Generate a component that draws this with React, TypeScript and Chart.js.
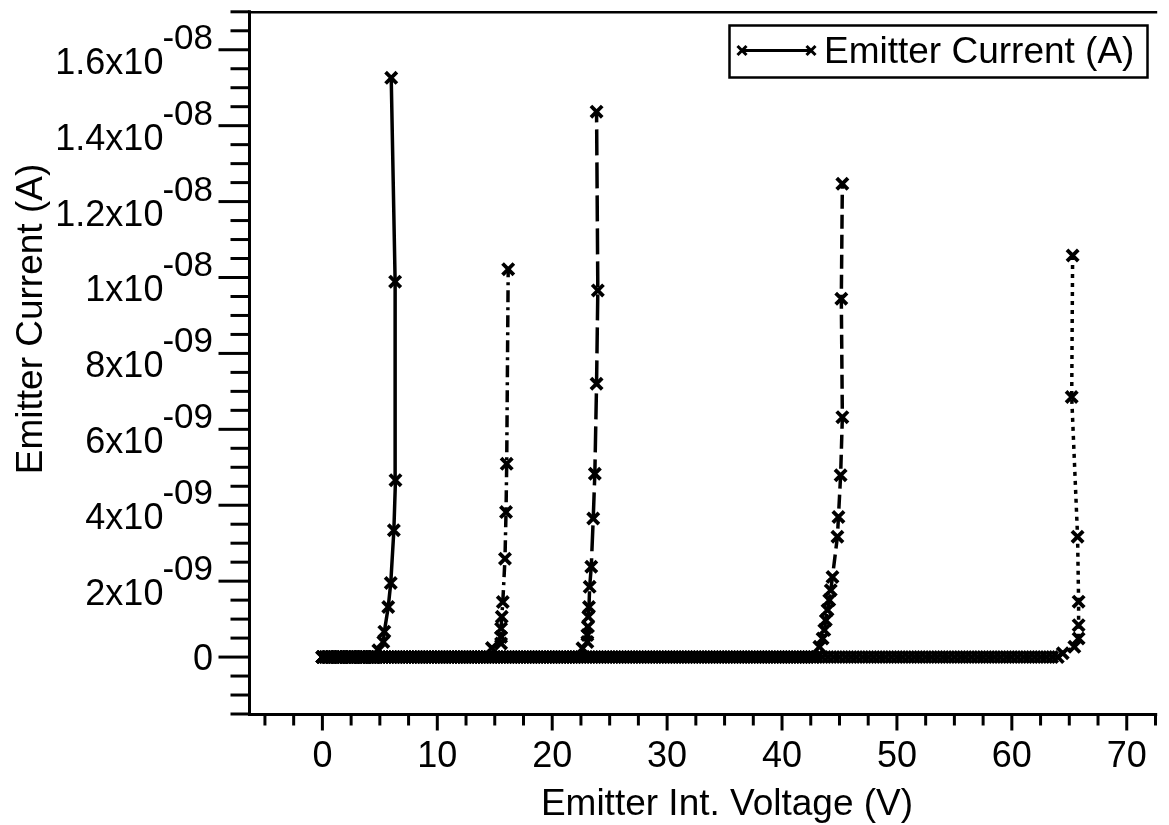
import React, { useEffect, useRef } from 'react';
import { Chart, registerables } from 'chart.js';

Chart.register(...registerables);

// ---- Data (voltage in V, current in nA) ----
const volts1 = [
  0, 0.2, 0.4, 0.6, 0.8, 1, 1.2, 1.4, 1.6, 1.8,
  2, 2.2, 2.4, 2.6, 2.8, 3, 3.2, 3.4, 3.6, 3.8,
  4, 4.2, 4.4, 4.6,
  4.87, 5.3, 5.39, 5.73, 5.95, 6.22, 6.36, 6.33, 5.99,
];
const current1 = [
  0, 0, 0, 0, 0, 0, 0, 0, 0, 0,
  0, 0, 0, 0, 0, 0, 0, 0, 0, 0,
  0, 0, 0, 0,
  0.18, 0.4, 0.67, 1.32, 1.95, 3.34, 4.66, 9.89, 15.26,
];

const volts2 = [
  0, 0.5, 1, 1.5, 2, 2.5, 3, 3.5, 4, 4.5,
  5, 5.5, 6, 6.5, 7, 7.5, 8, 8.5, 9, 9.5,
  10, 10.5, 11, 11.5, 12, 12.5, 13, 13.5, 14,
  14.75, 15.55, 15.55, 15.55, 15.61, 15.7, 15.89, 15.98, 16.04, 16.17,
];
const current2 = [
  0, 0, 0, 0, 0, 0, 0, 0, 0, 0,
  0, 0, 0, 0, 0, 0, 0, 0, 0, 0,
  0, 0, 0, 0, 0, 0, 0, 0, 0,
  0.24, 0.36, 0.53, 0.75, 1.06, 1.45, 2.59, 3.82, 5.09, 10.22,
];

const volts3 = [
  0, 0.5, 1, 1.5, 2, 2.5, 3, 3.5, 4, 4.5,
  5, 5.5, 6, 6.5, 7, 7.5, 8, 8.5, 9, 9.5,
  10, 10.5, 11, 11.5, 12, 12.5, 13, 13.5, 14, 14.5,
  15, 15.5, 16, 16.5, 17, 17.5, 18, 18.5, 19, 19.5,
  20, 20.5, 21, 21.5, 22,
  22.63, 23.06, 23.06, 23.11, 23.14, 23.2, 23.26, 23.4, 23.57, 23.71, 23.86, 23.97, 23.86,
];
const current3 = [
  0, 0, 0, 0, 0, 0, 0, 0, 0, 0,
  0, 0, 0, 0, 0, 0, 0, 0, 0, 0,
  0, 0, 0, 0, 0, 0, 0, 0, 0, 0,
  0, 0, 0, 0, 0, 0, 0, 0, 0, 0,
  0, 0, 0, 0, 0,
  0.23, 0.4, 0.58, 0.8, 1.06, 1.32, 1.85, 2.38, 3.65, 4.83, 7.2, 9.66, 14.37,
];

const volts4 = [
  0.25, 0.75, 1.25, 1.75, 2.25, 2.75, 3.25, 3.75, 4.25, 4.75,
  5.25, 5.75, 6.25, 6.75, 7.25, 7.75, 8.25, 8.75, 9.25, 9.75,
  10.25, 10.75, 11.25, 11.75, 12.25, 12.75, 13.25, 13.75, 14.25, 14.75,
  15.25, 15.75, 16.25, 16.75, 17.25, 17.75, 18.25, 18.75, 19.25, 19.75,
  20.25, 20.75, 21.25, 21.75, 22.25, 22.75, 23.25, 23.75, 24.25, 24.75,
  25.25, 25.75, 26.25, 26.75, 27.25, 27.75, 28.25, 28.75, 29.25, 29.75,
  30.25, 30.75, 31.25, 31.75, 32.25, 32.75, 33.25, 33.75, 34.25, 34.75,
  35.25, 35.75, 36.25, 36.75, 37.25, 37.75, 38.25, 38.75, 39.25, 39.75,
  40.25, 40.75, 41.25, 41.75, 42.25, 42.75,
  43.25, 43.53, 43.68, 43.81, 43.96, 44.11, 44.24, 44.39, 44.82, 44.91, 45.1, 45.25, 45.16, 45.25,
];
const current4 = [
  0, 0, 0, 0, 0, 0, 0, 0, 0, 0,
  0, 0, 0, 0, 0, 0, 0, 0, 0, 0,
  0, 0, 0, 0, 0, 0, 0, 0, 0, 0,
  0, 0, 0, 0, 0, 0, 0, 0, 0, 0,
  0, 0, 0, 0, 0, 0, 0, 0, 0, 0,
  0, 0, 0, 0, 0, 0, 0, 0, 0, 0,
  0, 0, 0, 0, 0, 0, 0, 0, 0, 0,
  0, 0, 0, 0, 0, 0, 0, 0, 0, 0,
  0, 0, 0, 0, 0, 0,
  0.27, 0.49, 0.71, 0.97, 1.24, 1.5, 1.76, 2.11, 3.17, 3.69, 4.79, 6.32, 9.44, 12.47,
];

const volts5 = [
  0, 0.5, 1, 1.5, 2, 2.5, 3, 3.5, 4, 4.5,
  5, 5.5, 6, 6.5, 7, 7.5, 8, 8.5, 9, 9.5,
  10, 10.5, 11, 11.5, 12, 12.5, 13, 13.5, 14, 14.5,
  15, 15.5, 16, 16.5, 17, 17.5, 18, 18.5, 19, 19.5,
  20, 20.5, 21, 21.5, 22, 22.5, 23, 23.5, 24, 24.5,
  25, 25.5, 26, 26.5, 27, 27.5, 28, 28.5, 29, 29.5,
  30, 30.5, 31, 31.5, 32, 32.5, 33, 33.5, 34, 34.5,
  35, 35.5, 36, 36.5, 37, 37.5, 38, 38.5, 39, 39.5,
  40, 40.5, 41, 41.5, 42, 42.5, 43, 43.5, 44, 44.5,
  45, 45.5, 46, 46.5, 47, 47.5, 48, 48.5, 49, 49.5,
  50, 50.5, 51, 51.5, 52, 52.5, 53, 53.5, 54, 54.5,
  55, 55.5, 56, 56.5, 57, 57.5, 58, 58.5, 59, 59.5,
  60, 60.5, 61, 61.5, 62, 62.5, 63, 63.5, 64,
  64.43, 65.44, 65.81, 65.81, 65.81, 65.72, 65.21, 65.29,
];
const current5 = [
  0, 0, 0, 0, 0, 0, 0, 0, 0, 0,
  0, 0, 0, 0, 0, 0, 0, 0, 0, 0,
  0, 0, 0, 0, 0, 0, 0, 0, 0, 0,
  0, 0, 0, 0, 0, 0, 0, 0, 0, 0,
  0, 0, 0, 0, 0, 0, 0, 0, 0, 0,
  0, 0, 0, 0, 0, 0, 0, 0, 0, 0,
  0, 0, 0, 0, 0, 0, 0, 0, 0, 0,
  0, 0, 0, 0, 0, 0, 0, 0, 0, 0,
  0, 0, 0, 0, 0, 0, 0, 0, 0, 0,
  0, 0, 0, 0, 0, 0, 0, 0, 0, 0,
  0, 0, 0, 0, 0, 0, 0, 0, 0, 0,
  0, 0, 0, 0, 0, 0, 0, 0, 0, 0,
  0, 0, 0, 0, 0, 0, 0, 0, 0,
  0.1, 0.27, 0.49, 0.84, 1.46, 3.17, 6.85, 10.58,
];

// ---- Tick labels ----
const xTickValues = [0, 10, 20, 30, 40, 50, 60, 70];
const xTickLabels = ['0', '10', '20', '30', '40', '50', '60', '70'];
const yTickValues = [0, 2, 4, 6, 8, 10, 12, 14, 16]; // nA
const yTickMantissa = ['0', '2x10', '4x10', '6x10', '8x10', '1x10', '1.2x10', '1.4x10', '1.6x10'];
const yTickExponent = ['', '-09', '-09', '-09', '-09', '-08', '-08', '-08', '-08'];

const legendLabel = 'Emitter Current (A)';
const xTitle = 'Emitter Int. Voltage (V)';
const yTitle = 'Emitter Current (A)';

const FONT = '"Liberation Sans", Arial, Helvetica, sans-serif';

const traces = [
  { x: volts1, y: current1, dash: [] as number[] },
  { x: volts2, y: current2, dash: [12, 5, 3, 5] },
  { x: volts3, y: current3, dash: [26, 7] },
  { x: volts4, y: current4, dash: [14, 6] },
  { x: volts5, y: current5, dash: [4, 5] },
];

const axesPlugin = {
  id: 'igorAxes',
  afterDraw(chart: any) {
    const { ctx, chartArea: ca, scales } = chart;
    const xs = scales.x;
    const ys = scales.y;
    const seg = (x1: number, y1: number, x2: number, y2: number) => {
      ctx.beginPath();
      ctx.moveTo(x1, y1);
      ctx.lineTo(x2, y2);
      ctx.stroke();
    };
    ctx.save();
    ctx.strokeStyle = '#000';
    ctx.fillStyle = '#000';
    ctx.lineCap = 'butt';
    ctx.setLineDash([]);

    // frame lines
    ctx.lineWidth = 3;
    const axX = ca.left - 0.5;
    const axY = ca.bottom + 0.5;
    seg(axX, ca.top - 1.5, axX, axY + 1.5);
    seg(axX - 1.5, axY, ca.right, axY);
    ctx.lineWidth = 2.5;
    seg(axX - 1.5, ca.top + 0.5, ca.right, ca.top + 0.5);

    // y ticks (minor every 0.5 nA, major every 2 nA)
    ctx.lineWidth = 3;
    for (let v = ys.min; v <= ys.max + 1e-6; v += 0.5) {
      const py = ys.getPixelForValue(v);
      const major = Math.abs(v / 2 - Math.round(v / 2)) < 1e-6;
      const len = major ? 31 : 19;
      seg(axX - len, py, axX, py);
    }
    // x ticks (minor every 2.5 V, major every 10 V)
    for (let v = Math.ceil(xs.min / 2.5) * 2.5; v <= xs.max + 1e-6; v += 2.5) {
      const px = xs.getPixelForValue(v);
      const major = Math.abs(v / 10 - Math.round(v / 10)) < 1e-6;
      const len = major ? 16 : 11;
      seg(px, axY, px, axY + len);
    }

    // x tick labels
    ctx.font = `36px ${FONT}`;
    ctx.textAlign = 'center';
    ctx.textBaseline = 'alphabetic';
    xTickValues.forEach((v, i) => {
      ctx.fillText(xTickLabels[i], xs.getPixelForValue(v), 767);
    });

    // y tick labels with superscript exponent
    const right = 213;
    yTickValues.forEach((v, i) => {
      const py = ys.getPixelForValue(v);
      const exp = yTickExponent[i];
      if (!exp) {
        ctx.font = `36px ${FONT}`;
        ctx.textAlign = 'right';
        ctx.fillText(yTickMantissa[i], right, py + 13);
        return;
      }
      ctx.font = `35px ${FONT}`;
      const supW = ctx.measureText(exp).width;
      ctx.textAlign = 'left';
      ctx.fillText(exp, right - supW, py - 1);
      ctx.font = `36px ${FONT}`;
      ctx.textAlign = 'right';
      ctx.fillText(yTickMantissa[i], right - supW + 1, py + 24);
    });

    // axis titles
    ctx.font = `37px ${FONT}`;
    ctx.textAlign = 'center';
    ctx.fillText(xTitle, 727, 815);
    ctx.save();
    ctx.translate(42, 319);
    ctx.rotate(-Math.PI / 2);
    ctx.fillText(yTitle, 0, 0);
    ctx.restore();

    // legend
    ctx.lineWidth = 2.5;
    ctx.strokeRect(729.5, 25.5, 418, 52);
    ctx.lineWidth = 3;
    seg(742, 50.5, 811, 50.5);
    const cross = (cx: number, cy: number) => {
      ctx.lineWidth = 3;
      seg(cx - 4.5, cy - 4.5, cx + 4.5, cy + 4.5);
      seg(cx - 4.5, cy + 4.5, cx + 4.5, cy - 4.5);
    };
    cross(742, 50.5);
    cross(811, 50.5);
    ctx.font = `37px ${FONT}`;
    ctx.textAlign = 'left';
    ctx.fillText(legendLabel, 824, 63);

    ctx.restore();
  },
};

export default function App() {
  const ref = useRef<HTMLCanvasElement>(null);
  useEffect(() => {
    const canvas = ref.current;
    if (!canvas) return;
    const chart = new Chart(canvas, {
      type: 'scatter',
      data: {
        datasets: traces.map((t, i) => ({
          label: i === 0 ? legendLabel : `sweep ${i + 1}`,
          data: t.x.map((xv, j) => ({ x: xv, y: t.y[j] })),
          showLine: true,
          borderColor: '#000',
          backgroundColor: '#000',
          borderWidth: 3.5,
          borderDash: t.dash,
          pointStyle: 'crossRot',
          pointRadius: 8,
          pointBorderWidth: 3.8,
          pointBorderColor: '#000',
          pointHoverRadius: 8,
          tension: 0,
        })),
      },
      options: {
        animation: false,
        responsive: false,
        events: [],
        layout: { padding: { left: 250, right: 0, top: 11, bottom: 111 } },
        plugins: {
          legend: { display: false },
          tooltip: { enabled: false },
          title: { display: false },
        },
        scales: {
          x: { type: 'linear', min: -6.3, max: 72.65, display: false },
          y: { type: 'linear', min: -1.5, max: 17, display: false },
        },
      },
      plugins: [axesPlugin],
    } as any);
    return () => chart.destroy();
  }, []);
  return (
    <canvas
      ref={ref}
      width={1169}
      height={825}
      style={{ position: 'fixed', left: 0, top: 0, width: '1169px', height: '825px', background: '#fff' }}
    />
  );
}
